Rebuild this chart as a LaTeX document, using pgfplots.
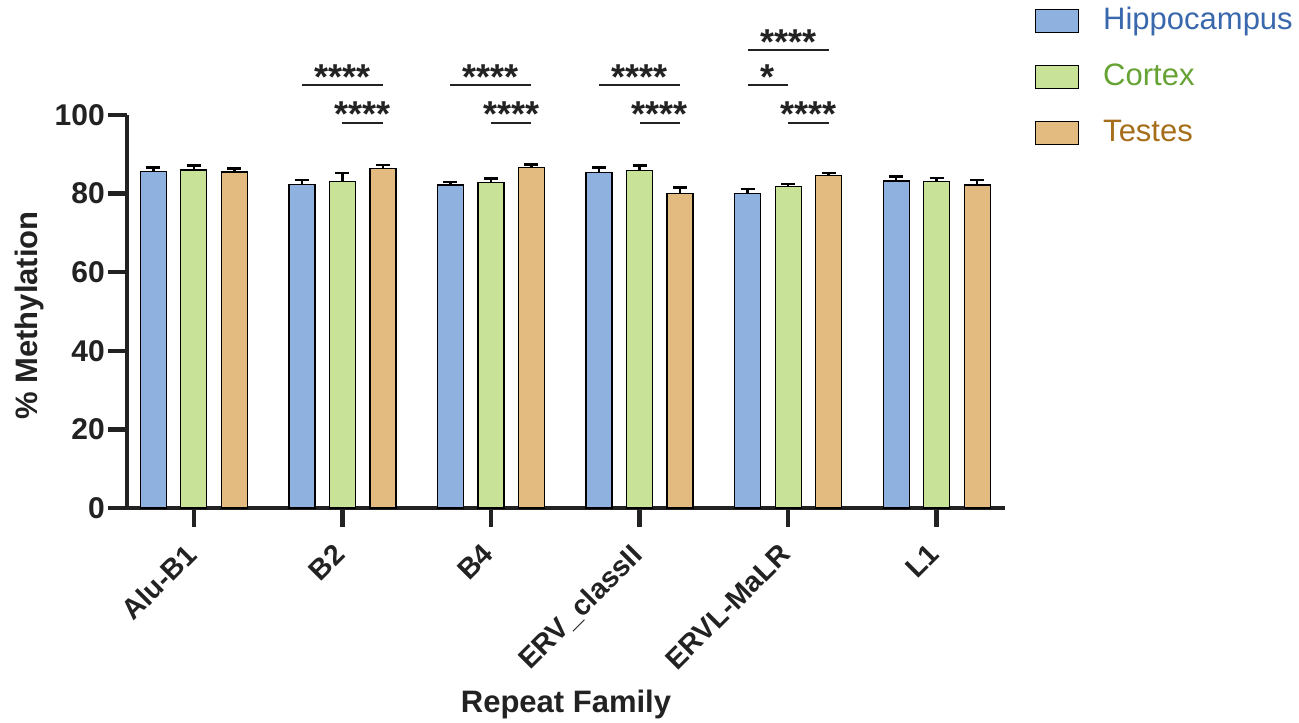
\documentclass[border=0pt]{standalone}
\usepackage{pgfplots}
\pgfplotsset{compat=1.18}
\usepackage{fontspec}
\setmainfont{Liberation Sans}
\definecolor{hipfill}{HTML}{8FB1DF}
\definecolor{corfill}{HTML}{C8E298}
\definecolor{tesfill}{HTML}{E3BA80}
\definecolor{hiptext}{HTML}{3A68AC}
\definecolor{cortext}{HTML}{66A334}
\definecolor{testext}{HTML}{A66E1A}
\definecolor{axcol}{HTML}{222222}
\tikzset{star/.style={font=\fontsize{36}{40}\selectfont\bfseries, text=axcol, anchor=base, inner sep=0pt, yshift=-4pt},
  brk/.style={line width=2pt, axcol}}
\begin{document}
\begin{tikzpicture}
\useasboundingbox (-127pt,-215pt) rectangle (1172pt,508pt);
\begin{axis}[
  at={(0pt,0pt)}, anchor=south west,
  scale only axis, width=878pt, height=393pt,
  xmin=-0.45, xmax=5.46, ymin=0, ymax=100,
  axis x line=bottom, axis y line=left,
  axis line style={-, line width=4.5pt, color=axcol},
  ytick={0,20,...,100},
  xtick={0,...,5},
  xticklabels={Alu-B1,B2,B4,ERV\_classII,ERVL-MaLR,L1},
  tick align=outside, major tick length=19pt,
  tick style={line width=4.5pt, color=axcol},
  ybar, bar width=26pt,
  clip=false,
  /pgf/number format/assume math mode=true,
  yticklabel style={font=\fontsize{30}{34}\selectfont\bfseries, text=axcol, inner sep=0pt, xshift=-3pt},
  xticklabel style={font=\fontsize{28.5}{33}\selectfont\bfseries, text=axcol, rotate=45, anchor=north east, inner sep=0pt, xshift=-17.7pt, yshift=-3.6pt},
  ylabel={\% Methylation}, xlabel={Repeat Family},
  every axis y label/.style={at={(axis description cs:-0.1105,0.49)}, rotate=90, anchor=center,
    font=\fontsize{31}{36}\selectfont\bfseries, text=axcol},
  every axis x label/.style={at={(axis description cs:0.5,-0.501)}, anchor=center,
    font=\fontsize{31}{36}\selectfont\bfseries, text=axcol},
  error bars/y dir=plus, error bars/y explicit,
  error bars/error bar style={line width=2.5pt, color=black},
  error bars/error mark options={rotate=90, mark size=7pt, line width=2.5pt, color=black},
  legend style={at={(axis description cs:1.0342,1.27)}, anchor=north west, draw=none, fill=none,
    font=\fontsize{31}{36}\selectfont, inner sep=0pt, row sep=29.5pt,
    nodes={inner sep=0pt, text height=20pt, text depth=6pt},
    /tikz/every odd column/.append style={column sep=24pt}},
  legend cell align=left,
  legend image code/.code={\draw[#1, line width=1pt] (0pt,-10pt) rectangle (43pt,13pt);},
]
\addplot[fill=hipfill, draw=black, line width=1.2pt, bar shift=-40.5pt] coordinates {
  (0,85.7) +- (0,0.9)
  (1,82.4) +- (0,1.1)
  (2,82.2) +- (0,0.8)
  (3,85.3) +- (0,1.3)
  (4,80.1) +- (0,1.1)
  (5,83.2) +- (0,1.1)
};
\addlegendentry{\textcolor{hiptext}{Hippocampus}}
\addplot[fill=corfill, draw=black, line width=1.2pt, bar shift=0pt] coordinates {
  (0,86.0) +- (0,1.1)
  (1,83.1) +- (0,2.2)
  (2,82.9) +- (0,0.9)
  (3,85.8) +- (0,1.3)
  (4,81.8) +- (0,0.6)
  (5,83.0) +- (0,1.0)
};
\addlegendentry{\textcolor{cortext}{Cortex}}
\addplot[fill=tesfill, draw=black, line width=1.2pt, bar shift=40.5pt] coordinates {
  (0,85.5) +- (0,0.9)
  (1,86.3) +- (0,1.0)
  (2,86.6) +- (0,0.8)
  (3,80.1) +- (0,1.4)
  (4,84.6) +- (0,0.7)
  (5,82.2) +- (0,1.2)
};
\addlegendentry{\textcolor{testext}{Testes}}
% significance brackets
\draw[brk] (axis cs:0.7274,107.6) -- (axis cs:1.2726,107.6);
\node[star] at (axis cs:1,107.6) {****};
\draw[brk] (axis cs:1,98.0) -- (axis cs:1.2726,98.0);
\node[star] at (axis cs:1.1363,98.0) {****};
\draw[brk] (axis cs:1.7274,107.6) -- (axis cs:2.2726,107.6);
\node[star] at (axis cs:2,107.6) {****};
\draw[brk] (axis cs:2,98.0) -- (axis cs:2.2726,98.0);
\node[star] at (axis cs:2.1363,98.0) {****};
\draw[brk] (axis cs:2.7274,107.6) -- (axis cs:3.2726,107.6);
\node[star] at (axis cs:3,107.6) {****};
\draw[brk] (axis cs:3,98.0) -- (axis cs:3.2726,98.0);
\node[star] at (axis cs:3.1363,98.0) {****};
\draw[brk] (axis cs:3.7274,116.5) -- (axis cs:4.2726,116.5);
\node[star] at (axis cs:4,116.5) {****};
\draw[brk] (axis cs:3.7274,107.6) -- (axis cs:4,107.6);
\node[star] at (axis cs:3.8637,107.6) {*};
\draw[brk] (axis cs:4,98.0) -- (axis cs:4.2726,98.0);
\node[star] at (axis cs:4.1363,98.0) {****};
\end{axis}
\end{tikzpicture}
\end{document}
